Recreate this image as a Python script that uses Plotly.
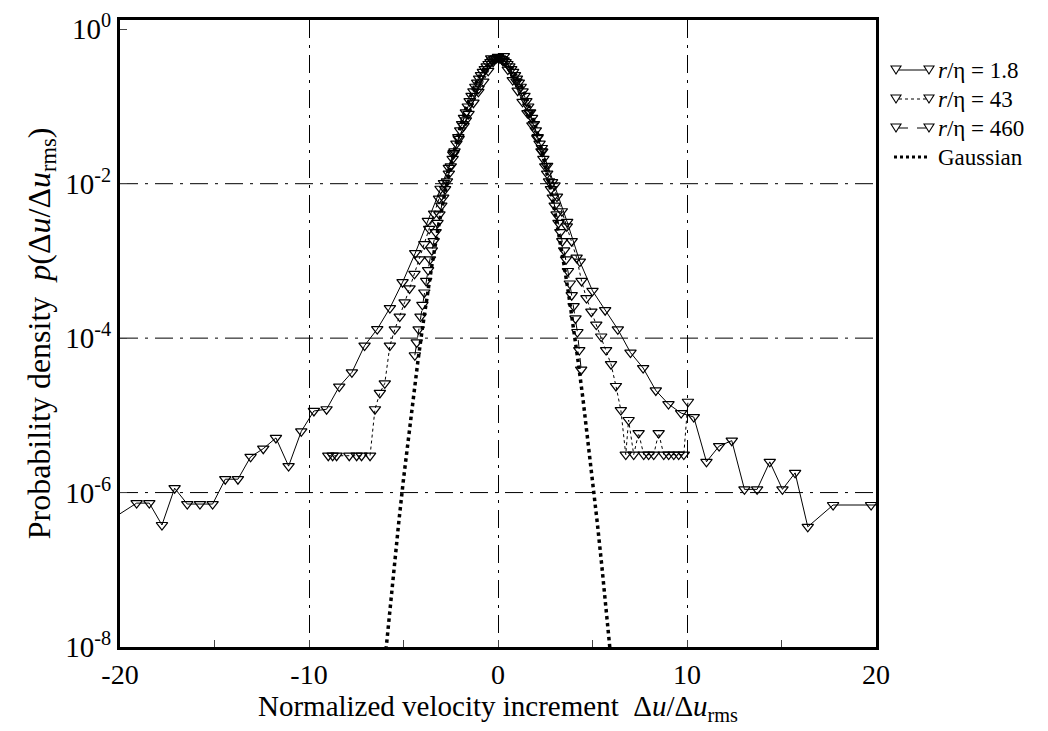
import plotly.graph_objects as go

# ---- data ----
# r/eta = 1.8 (solid line)
x_18 = [-20.46, -19.12, -18.45, -17.78, -17.11, -16.44, -15.77, -15.10, -14.43, -13.76,
        -13.09, -12.42, -11.75, -11.08, -10.41, -9.74, -9.07, -8.40, -7.73, -7.06,
        -6.39, -5.72, -5.05, -4.38, -3.71, -3.04, -2.37, -1.70, -1.03, -0.36,
        0.31, 0.98, 1.65, 2.32, 2.99, 3.66, 4.33, 5.00, 5.67, 6.34,
        7.01, 7.68, 8.35, 9.02, 9.69, 10.36, 11.03, 11.70, 12.37, 13.04,
        13.71, 14.38, 15.05, 15.72, 16.39, 17.73, 19.74, 20.41]
p_18 = [4.5e-7, 7.3e-7, 7.3e-7, 3.8e-7, 1.14e-6, 7.1e-7, 7.1e-7, 7.1e-7, 1.49e-6, 1.49e-6,
        2.9e-6, 3.7e-6, 5.1e-6, 2.2e-6, 6.2e-6, 1.14e-5, 1.2e-5, 2.36e-5, 3.6e-5, 8.0e-5,
        1.31e-4, 2.45e-4, 5.3e-4, 1.26e-3, 3.3e-3, 8.6e-3, 0.024, 0.066, 0.17, 0.42,
        0.45, 0.21, 0.083, 0.029, 9.5e-3, 3.2e-3, 9.8e-4, 4.1e-4, 2.3e-4, 1.3e-4,
        6.5e-5, 4.1e-5, 2.1e-5, 1.4e-5, 1.07e-5, 9.5e-6, 2.5e-6, 4.0e-6, 4.7e-6, 1.1e-6,
        1.1e-6, 2.5e-6, 1.1e-6, 1.8e-6, 3.6e-7, 6.9e-7, 6.9e-7, 6.9e-7]

# r/eta = 43 (dotted line)
x_43 = [-8.98, -8.75, -8.54, -7.87, -7.48, -7.22, -6.77, -6.51, -6.25, -5.99,
        -5.72, -5.46, -5.20, -4.94, -4.68, -4.42, -4.16, -3.90, -3.64, -3.38,
        -3.12, -2.86, -2.60, -2.34, -2.08, -1.82, -1.56, -1.30, -1.04, -0.78,
        -0.52, -0.26, 0.00, 0.26, 0.52, 0.78, 1.04, 1.30, 1.56, 1.82,
        2.08, 2.34, 2.60, 2.86, 3.12, 3.38, 3.64, 3.90, 4.16, 4.42,
        4.68, 4.94, 5.20, 5.46, 5.72, 5.98, 6.24, 6.50, 6.76, 6.91,
        7.18, 7.44, 7.71, 7.97, 8.24, 8.50, 8.77, 9.03, 9.30, 9.56,
        9.83, 10.05]
p_43 = [3.0e-6, 3.0e-6, 3.0e-6, 3.0e-6, 3.0e-6, 3.0e-6, 3.0e-6, 1.2e-5, 1.95e-5, 2.6e-5,
        8.0e-5, 1.3e-4, 1.9e-4, 2.9e-4, 4.4e-4, 6.8e-4, 1.05e-3, 1.65e-3, 2.6e-3, 4.1e-3,
        6.4e-3, 0.0102, 0.016, 0.025, 0.038, 0.056, 0.08, 0.112, 0.155, 0.21,
        0.29, 0.38, 0.44, 0.39, 0.30, 0.22, 0.16, 0.115, 0.082, 0.057,
        0.039, 0.026, 0.017, 0.0105, 6.8e-3, 4.4e-3, 2.8e-3, 1.8e-3, 1.1e-3, 5.5e-4,
        3.3e-4, 2.2e-4, 1.5e-4, 1.05e-4, 7.0e-5, 4.6e-5, 2.4e-5, 1.17e-5, 3.1e-6, 8.7e-6,
        3.1e-6, 5.9e-6, 3.1e-6, 3.1e-6, 3.1e-6, 5.9e-6, 3.1e-6, 3.1e-6, 3.1e-6, 3.1e-6,
        3.1e-6, 1.5e-5]

# r/eta = 460 (dashed line)
x_460 = [-4.4, -4.3, -4.2, -4.1, -4.0, -3.9, -3.8, -3.7, -3.6, -3.5,
         -3.4, -3.3, -3.2, -3.1, -3.0, -2.9, -2.8, -2.7, -2.6, -2.5,
         -2.4, -2.3, -2.2, -2.1, -2.0, -1.9, -1.8, -1.7, -1.6, -1.5,
         -1.4, -1.3, -1.2, -1.1, -1.0, -0.9, -0.8, -0.7, -0.6, -0.5,
         -0.4, -0.3, -0.2, -0.1, 0.0, 0.1, 0.2, 0.3, 0.4, 0.5,
         0.6, 0.7, 0.8, 0.9, 1.0, 1.1, 1.2, 1.3, 1.4, 1.5,
         1.6, 1.7, 1.8, 1.9, 2.0, 2.1, 2.2, 2.3, 2.4, 2.5,
         2.6, 2.7, 2.8, 2.9, 3.0, 3.1, 3.2, 3.3, 3.4, 3.5,
         3.6, 3.7, 3.8, 3.9, 4.0, 4.1, 4.2, 4.3, 4.4]
p_460 = [6.0e-5, 8.8e-5, 1.3e-4, 1.9e-4, 2.7e-4, 3.9e-4, 5.5e-4, 7.6e-4, 1.05e-3, 1.37e-3,
         1.8e-3, 2.36e-3, 3.1e-3, 4.0e-3, 5.2e-3, 6.6e-3, 8.5e-3, 0.0107, 0.0135, 0.0168,
         0.021, 0.0263, 0.033, 0.040, 0.049, 0.059, 0.071, 0.084, 0.10, 0.117,
         0.137, 0.157, 0.18, 0.204, 0.23, 0.254, 0.28, 0.305, 0.33, 0.355,
         0.375, 0.395, 0.41, 0.42, 0.43, 0.42, 0.41, 0.395, 0.375, 0.355,
         0.33, 0.305, 0.28, 0.254, 0.23, 0.204, 0.18, 0.157, 0.137, 0.117,
         0.10, 0.084, 0.071, 0.059, 0.049, 0.040, 0.033, 0.0263, 0.021, 0.0168,
         0.0135, 0.0107, 8.5e-3, 6.6e-3, 5.2e-3, 4.0e-3, 3.1e-3, 2.36e-3, 1.8e-3, 1.37e-3,
         1.05e-3, 7.4e-4, 5.1e-4, 3.6e-4, 2.6e-4, 1.8e-4, 1.2e-4, 7.0e-5, 3.9e-5]

# Gaussian reference curve (dotted)
x_gauss = [-6.0, -5.75, -5.5, -5.25, -5.0, -4.75, -4.5, -4.25, -4.0, -3.75,
           -3.5, -3.25, -3.0, -2.75, -2.5, -2.25, -2.0, -1.75, -1.5, -1.25,
           -1.0, -0.75, -0.5, -0.25, 0.0, 0.25, 0.5, 0.75, 1.0, 1.25,
           1.5, 1.75, 2.0, 2.25, 2.5, 2.75, 3.0, 3.25, 3.5, 3.75,
           4.0, 4.25, 4.5, 4.75, 5.0, 5.25, 5.5, 5.75, 6.0]
p_gauss = [6.08e-9, 2.66e-8, 1.08e-7, 4.13e-7, 1.49e-6, 5.03e-6, 1.60e-5, 4.77e-5, 1.34e-4, 3.53e-4,
           8.73e-4, 2.03e-3, 4.43e-3, 9.09e-3, 0.0175, 0.0317, 0.0540, 0.0863, 0.1295, 0.1826,
           0.2420, 0.3011, 0.3521, 0.3867, 0.3989, 0.3867, 0.3521, 0.3011, 0.2420, 0.1826,
           0.1295, 0.0863, 0.0540, 0.0317, 0.0175, 9.09e-3, 4.43e-3, 2.03e-3, 8.73e-4, 3.53e-4,
           1.34e-4, 4.77e-5, 1.60e-5, 5.03e-6, 1.49e-6, 4.13e-7, 1.08e-7, 2.66e-8, 6.08e-9]

series_names = ["<i>r</i>/η = 1.8", "<i>r</i>/η = 43", "<i>r</i>/η = 460", "Gaussian"]
series_dash = ["solid", "dot", "dash", "dot"]

y_tickvals = [1, 1e-2, 1e-4, 1e-6, 1e-8]
y_ticktext = ["10<sup>0</sup>", "10<sup>-2</sup>", "10<sup>-4</sup>", "10<sup>-6</sup>", "10<sup>-8</sup>"]
y_gridvals = [1e-2, 1e-4, 1e-6]
x_tickvals = [-20, -10, 0, 10, 20]
x_ticktext = ["-20", "-10", "0", "10", "20"]

FONT = "Liberation Serif, Times New Roman, serif"
marker = dict(symbol="triangle-down-open", size=10, color="black", line=dict(width=1.2, color="black"))

fig = go.Figure()
for xs, ys, name, dash in [(x_18, p_18, series_names[0], series_dash[0]),
                           (x_43, p_43, series_names[1], series_dash[1]),
                           (x_460, p_460, series_names[2], series_dash[2])]:
    fig.add_trace(go.Scatter(x=xs, y=ys, mode="lines+markers", name=name, showlegend=False,
                             line=dict(color="black", width=1, dash=dash), marker=marker))
fig.add_trace(go.Scatter(x=x_gauss, y=p_gauss, mode="lines", name=series_names[3], showlegend=False,
                         line=dict(color="black", width=3.5, dash="dot")))

griddash = "18px,7px,3px,7px"
for gy in y_gridvals:
    fig.add_shape(type="line", xref="paper", x0=0, x1=1, yref="y", y0=gy, y1=gy,
                  line=dict(color="black", width=1, dash=griddash), layer="below")

# ---- hand-drawn legend (outside the plot, right side) ----
PW, PH = 756.0, 627.0          # plot area size in px
def px_x(px):                   # page px -> paper (plot left edge at 120)
    return (px - 120) / PW
def px_y(py):                   # page px -> paper (plot bottom at 647)
    return (647 - py) / PH

row_y = [70, 99, 128, 157]
for i, (name, dash) in enumerate(zip(series_names, series_dash)):
    yc = px_y(row_y[i])
    if i < 3:
        fig.add_shape(type="line", xref="paper", yref="paper",
                      x0=px_x(899), x1=px_x(926), y0=yc, y1=yc,
                      line=dict(color="black", width=1, dash=dash))
        for cx in (896, 929):
            w, h = 5.0, 8.0
            path = "M {:.5f},{:.5f} L {:.5f},{:.5f} L {:.5f},{:.5f} Z".format(
                px_x(cx - w), px_y(row_y[i] - h / 2), px_x(cx + w), px_y(row_y[i] - h / 2),
                px_x(cx), px_y(row_y[i] + h / 2))
            fig.add_shape(type="path", xref="paper", yref="paper", path=path,
                          line=dict(color="black", width=1.1), fillcolor="white")
    else:
        fig.add_shape(type="line", xref="paper", yref="paper",
                      x0=px_x(894), x1=px_x(930), y0=yc, y1=yc,
                      line=dict(color="black", width=3, dash="dot"))
    fig.add_annotation(xref="paper", yref="paper", x=px_x(937), y=yc, text=name,
                       showarrow=False, xanchor="left", yanchor="middle", borderpad=0,
                       font=dict(family=FONT, size=23, color="black"))

fig.update_layout(
    width=1048, height=731,
    margin=dict(l=112, r=180, t=12, b=92),
    paper_bgcolor="white", plot_bgcolor="white",
    font=dict(family=FONT, size=26, color="black"),
    showlegend=False,
    xaxis=dict(range=[-20, 20], tickvals=x_tickvals, ticktext=x_ticktext, ticks="inside",
               ticklen=7, tickwidth=1, showline=True, linewidth=3, linecolor="black",
               mirror=True, showgrid=True, gridcolor="black", gridwidth=1, griddash=griddash,
               zeroline=False, automargin=False, tickfont=dict(family=FONT, size=28),
               minor=dict(dtick=5, tick0=0, ticks="inside", ticklen=7, showgrid=False),
               title=dict(text="Normalized velocity increment  Δ<i>u</i>/Δ<i>u</i><sub>rms</sub>",
                          font=dict(family=FONT, size=29), standoff=4)),
    yaxis=dict(type="log", range=[-8, 0.12], tickvals=y_tickvals, ticktext=y_ticktext,
               ticks="inside", ticklen=7, tickwidth=1, showline=True, linewidth=3,
               linecolor="black", mirror=True, showgrid=False, zeroline=False,
               automargin=False, tickfont=dict(family=FONT, size=29),
               title=dict(text="Probability density  <i>p</i>(Δ<i>u</i>/Δ<i>u</i><sub>rms</sub>)",
                          font=dict(family=FONT, size=32), standoff=6)),
)

fig.write_html("out.html")
